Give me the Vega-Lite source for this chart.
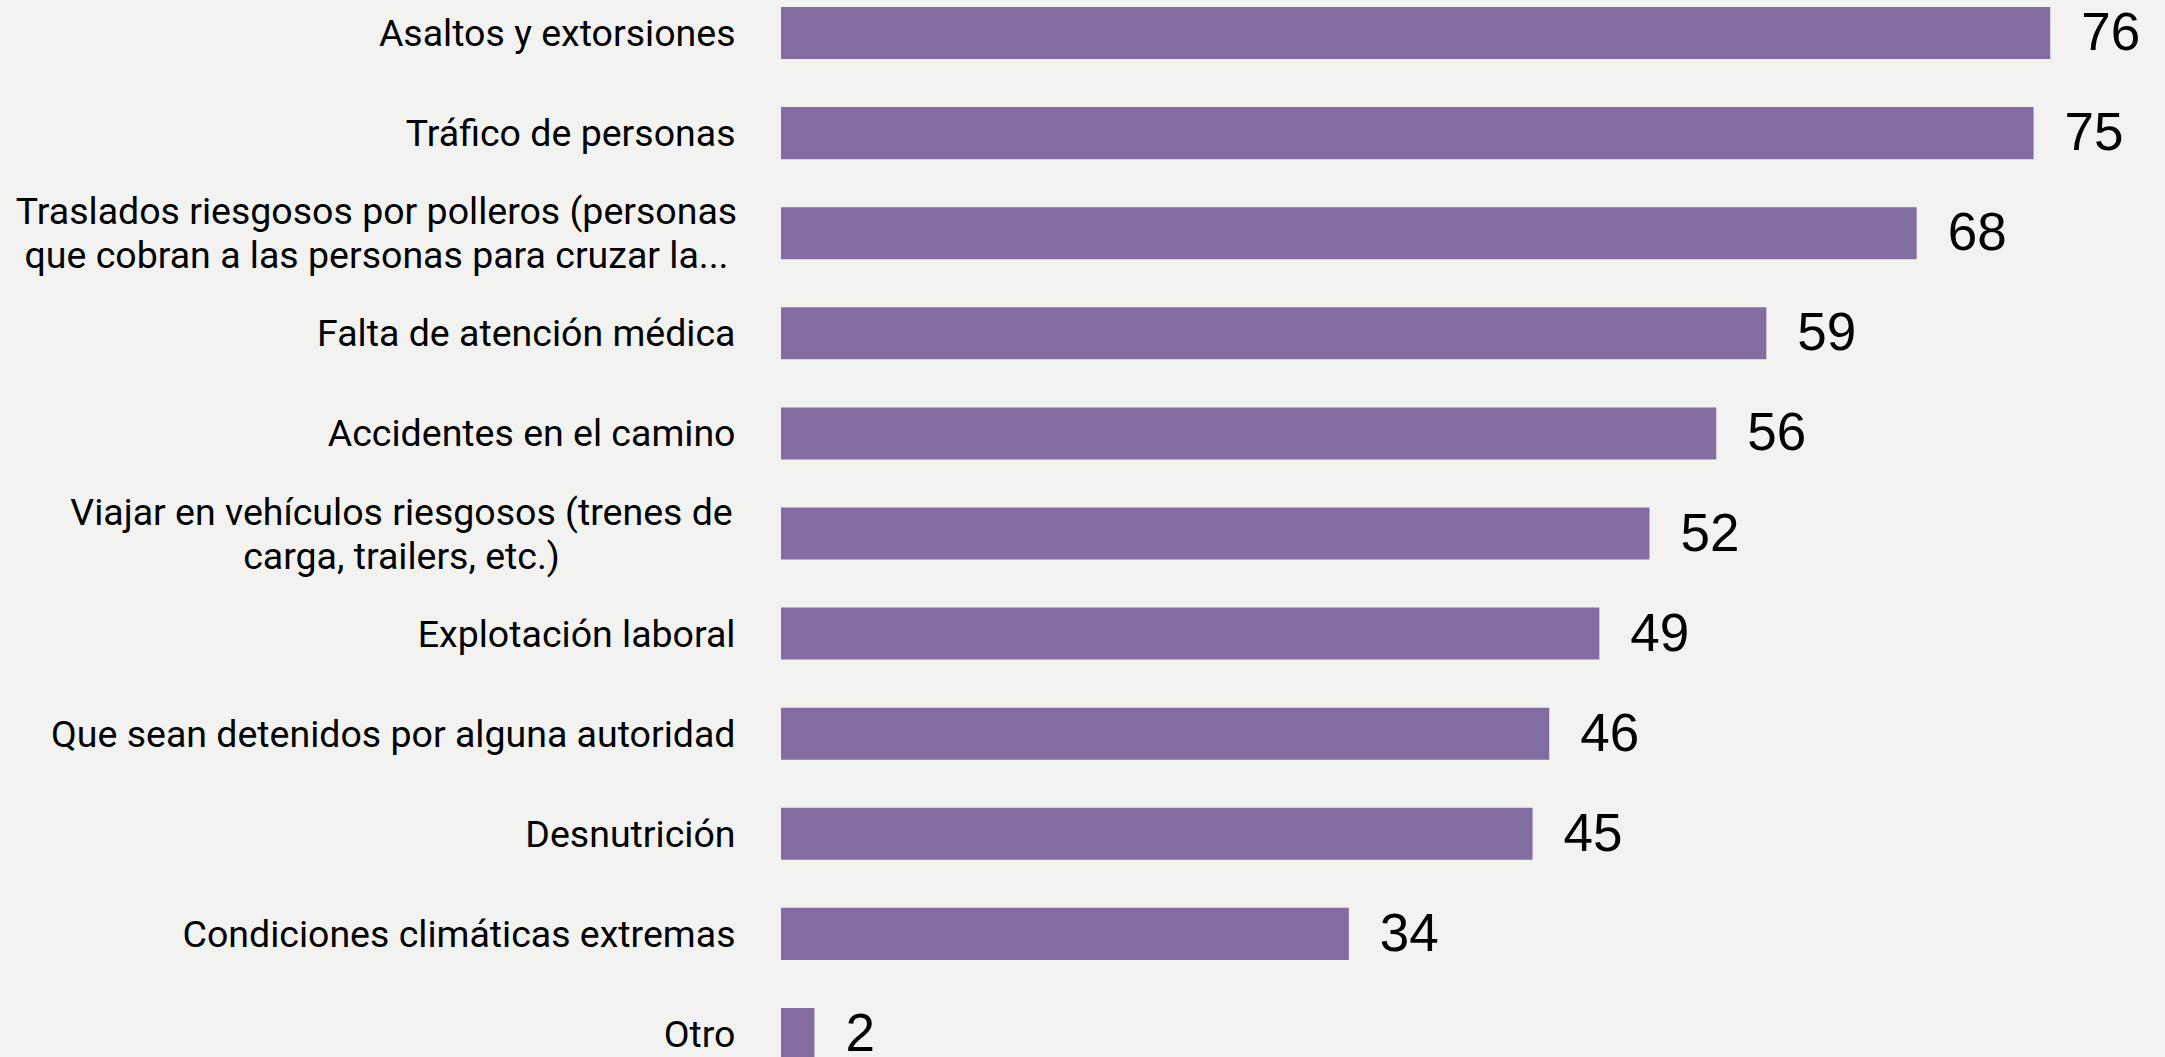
{
  "$schema": "https://vega.github.io/schema/vega-lite/v6.json",
  "autosize": {"type": "none"},
  "width": 1384,
  "height": 1053,
  "padding": {"left": 781, "top": 7, "right": 0, "bottom": 0},
  "background": "#f2f2f0",
  "config": {"view": {"stroke": null}},
  "data": {"values": [
    {"cat": "Asaltos y extorsiones", "v": 76},
    {"cat": "Tráfico de personas", "v": 75},
    {"cat": "Traslados riesgosos por polleros (personas|que cobran a las personas para cruzar la...", "v": 68},
    {"cat": "Falta de atención médica", "v": 59},
    {"cat": "Accidentes en el camino", "v": 56},
    {"cat": "Viajar en vehículos riesgosos (trenes de|carga, trailers, etc.)", "v": 52},
    {"cat": "Explotación laboral", "v": 49},
    {"cat": "Que sean detenidos por alguna autoridad", "v": 46},
    {"cat": "Desnutrición", "v": 45},
    {"cat": "Condiciones climáticas extremas", "v": 34},
    {"cat": "Otro", "v": 2}
  ]},
  "encoding": {
    "y": {
      "field": "cat", "type": "nominal", "sort": null,
      "scale": {"paddingInner": 0.48, "paddingOuter": 0},
      "axis": {
        "title": null, "domain": false, "ticks": false,
        "labelFont": "Roboto", "labelFontSize": 37.5, "labelColor": "#000000",
        "labelLimit": 900, "labelLineHeight": 44,
        "labelExpr": "split(datum.label, '|')",
        "labelAlign": {"condition": {"test": "indexof(datum.label, '|') >= 0", "value": "center"}, "value": "right"},
        "labelPadding": {"condition": [
          {"test": "indexof(datum.label, 'Traslados') >= 0", "value": 405},
          {"test": "indexof(datum.label, 'Viajar') >= 0", "value": 380}
        ], "value": 46},
        "labelOffset": {"condition": {"test": "indexof(datum.label, '|') >= 0", "value": -20}, "value": 2}
      }
    },
    "x": {
      "field": "v", "type": "quantitative",
      "scale": {"domain": [0, 82.87], "nice": false, "zero": true},
      "axis": null
    }
  },
  "layer": [
    {"mark": {"type": "bar", "color": "#836ca0"}},
    {"mark": {"type": "text", "align": "left", "baseline": "middle", "dx": 31, "dy": 1, "font": "Liberation Sans", "fontSize": 53, "color": "#000000"},
     "encoding": {"text": {"field": "v", "type": "quantitative"}}}
  ]
}
